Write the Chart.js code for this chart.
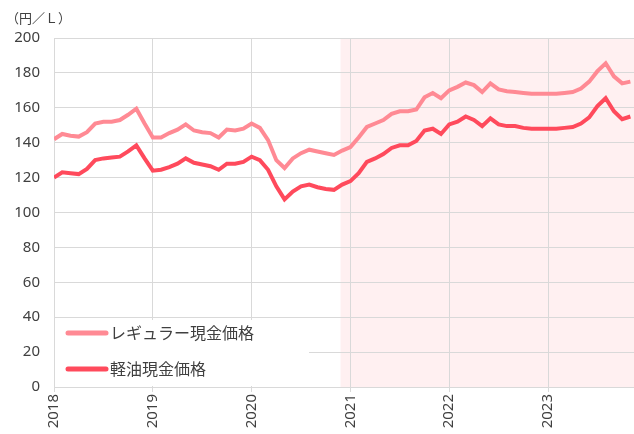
<!DOCTYPE html>
<html>
<head>
<meta charset="utf-8">
<script src="https://cdn.jsdelivr.net/npm/chart.js@4.4.0/dist/chart.umd.min.js"></script>
<style>
  html, body { margin: 0; padding: 0; background: #fff; }
  #wrap { width: 634px; height: 434px; position: relative; }
</style>
</head>
<body>
<div id="wrap"><canvas id="myChart"></canvas></div>
<script>
// monthly points, Jan 2018 .. Nov 2023
const startYear = 2018;
const endYear = 2023.87;
const shadeFrom = 2020.9; // shaded period starts here
const unitLabel = "（円／Ｌ）";
const seriesNames = ["レギュラー現金価格", "軽油現金価格"];

const regular = [
  142, 145, 144, 143.5, 146, 151, 152, 152, 153, 156, 159.5, 151,
  143, 143, 145.5, 147.5, 150.5, 147, 146, 145.5, 143, 147.5, 147, 148,
  151, 148.5, 141.5, 130, 125.5, 131, 134, 136, 135, 134, 133, 135.5,
  137.5, 143, 149, 151, 153, 156.5, 158, 158, 159, 166, 168.5, 165.5,
  170, 172, 174.5, 173, 169, 174, 170.5, 169.5, 169, 168.5, 168, 168,
  168, 168, 168.5, 169, 171, 175, 181, 185.5, 178, 174, 175
];
const diesel = [
  120, 123, 122.5, 122, 125, 130, 131, 131.5, 132, 135, 138.5, 131,
  124, 124.5, 126, 128, 131, 128.5, 127.5, 126.5, 124.5, 128, 128, 129,
  132, 130, 124.5, 115, 107.5, 112, 115, 116, 114.5, 113.5, 113, 116,
  118, 122.5, 129, 131, 133.5, 137, 138.5, 138.5, 141, 147, 148, 145,
  150.5, 152, 155, 153, 149.5, 154, 150.5, 149.5, 149.5, 148.5, 148, 148,
  148, 148, 148.5, 149, 151, 154.5, 161, 165.5, 158, 153.5, 155
];

// position of each month on the year axis
const monthPos = regular.map((v, i) => startYear + i / 12);

const colRegular = "#ff8a94";
const colDiesel = "#ff4a5c";
const gridCol = "#d9d9d9";
const textCol = "#404040";

// shaded background + unit label + legend box
const extras = {
  id: "extras",
  beforeDraw(chart) {
    const { ctx, chartArea, scales } = chart;
    const x0 = scales.x.getPixelForValue(shadeFrom);
    ctx.save();
    ctx.fillStyle = "#fff0f1";
    ctx.fillRect(x0, chartArea.top, chartArea.right - x0, chartArea.bottom - chartArea.top);
    ctx.fillStyle = textCol;
    ctx.font = "13px 'Noto Sans CJK JP'";
    ctx.textBaseline = "middle";
    ctx.fillText(unitLabel, 6, 18);
    ctx.restore();
  },
  beforeDatasetsDraw(chart) {
    const { ctx, chartArea } = chart;
    ctx.save();
    ctx.fillStyle = "#fff";
    ctx.fillRect(chartArea.left + 1, 320, 254, chartArea.bottom - 320 - 1);
    const rows = [[colRegular, 333], [colDiesel, 369]];
    ctx.font = "16px 'Noto Sans CJK JP'";
    ctx.textBaseline = "middle";
    rows.forEach((r, i) => {
      ctx.strokeStyle = r[0];
      ctx.lineWidth = 5;
      ctx.lineCap = "round";
      ctx.beginPath();
      ctx.moveTo(68, r[1]);
      ctx.lineTo(106, r[1]);
      ctx.stroke();
      ctx.fillStyle = textCol;
      ctx.fillText(seriesNames[i], 110, r[1]);
    });
    ctx.restore();
  }
};

const ctx = document.getElementById("myChart");
new Chart(ctx, {
  type: "line",
  data: {
    datasets: [
      {
        label: seriesNames[0],
        data: monthPos.map((x, i) => ({ x: x, y: regular[i] })),
        borderColor: colRegular,
        borderWidth: 4,
        pointRadius: 0,
        tension: 0
      },
      {
        label: seriesNames[1],
        data: monthPos.map((x, i) => ({ x: x, y: diesel[i] })),
        borderColor: colDiesel,
        borderWidth: 4,
        pointRadius: 0,
        tension: 0
      }
    ]
  },
  options: {
    responsive: true,
    maintainAspectRatio: false,
    animation: false,
    layout: { padding: { top: 38, right: 0, left: 0, bottom: 0 } },
    plugins: {
      legend: { display: false },
      tooltip: { enabled: false }
    },
    scales: {
      x: {
        type: "linear",
        min: startYear,
        max: endYear,
        grid: { color: gridCol, tickLength: 5 },
        border: { color: gridCol },
        ticks: {
          stepSize: 1,
          includeBounds: false,
          autoSkip: false,
          minRotation: 90,
          maxRotation: 90,
          padding: 2,
          color: textCol,
          font: { family: "'Noto Sans'", size: 15 },
          callback: (v) => String(v)
        },
        afterFit: (s) => { s.height = 47; }
      },
      y: {
        min: 0,
        max: 200,
        grid: { color: gridCol, drawTicks: false },
        border: { display: false },
        ticks: {
          stepSize: 20,
          padding: 14,
          color: textCol,
          font: { family: "'Noto Sans'", size: 15 }
        },
        afterFit: (s) => { s.width = 54; }
      }
    }
  },
  plugins: [extras]
});
</script>
</body>
</html>
